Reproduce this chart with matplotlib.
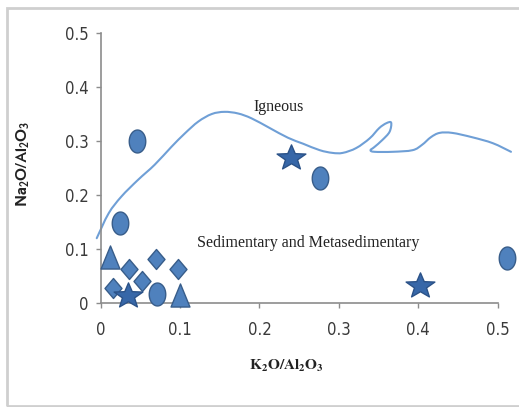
import matplotlib
matplotlib.use("Agg")
import matplotlib.pyplot as plt
import numpy as np
from matplotlib.path import Path
from matplotlib.patches import Rectangle, PathPatch

# ---------------- data ----------------
circle_x = [0.046, 0.024, 0.071, 0.276, 0.512]
circle_y = [0.300, 0.148, 0.017, 0.231, 0.083]

diamond_x = [0.015, 0.036, 0.052, 0.070, 0.097]
diamond_y = [0.027, 0.063, 0.041, 0.081, 0.063]

triangle_x = [0.012, 0.100]
triangle_y = [0.085, 0.015]

star_x = [0.035, 0.240, 0.402]
star_y = [0.011, 0.267, 0.030]

curve_x = [-0.005, 0.010, 0.026, 0.047, 0.068, 0.089, 0.106, 0.123, 0.140,
           0.156, 0.173, 0.190, 0.213, 0.236, 0.255, 0.276, 0.292, 0.305,
           0.322, 0.339, 0.351, 0.360, 0.366, 0.364, 0.355, 0.345, 0.340,
           0.345, 0.368, 0.393, 0.405, 0.416, 0.427, 0.443, 0.468, 0.494, 0.517]
curve_y = [0.120, 0.166, 0.197, 0.228, 0.256, 0.289, 0.314, 0.336, 0.350,
           0.354, 0.351, 0.342, 0.324, 0.306, 0.295, 0.283, 0.278, 0.278,
           0.287, 0.305, 0.324, 0.333, 0.334, 0.317, 0.302, 0.289, 0.283,
           0.280, 0.280, 0.283, 0.293, 0.307, 0.315, 0.315, 0.307, 0.296, 0.280]

x_ticks = [0, 0.1, 0.2, 0.3, 0.4, 0.5]
x_ticklabels = ["0", "0.1", "0.2", "0.3", "0.4", "0.5"]
y_ticks = [0, 0.1, 0.2, 0.3, 0.4, 0.5]
y_ticklabels = ["0", "0.1", "0.2", "0.3", "0.4", "0.5"]

serif_font = "Liberation Serif"

# ---------------- marker shapes ----------------
t = np.linspace(0, 2 * np.pi, 60)
ellipse = Path(np.column_stack([0.36 * np.cos(t), 0.5 * np.sin(t)]), closed=True)
diamond = Path([(0, 0.5), (0.425, 0), (0, -0.5), (-0.425, 0), (0, 0.5)], closed=True)
triangle = Path([(0, 0.5), (-0.41, -0.5), (0.41, -0.5), (0, 0.5)], closed=True)
ang = np.pi / 2 + np.arange(10) * np.pi / 5
rad = np.where(np.arange(10) % 2 == 0, 1.0, 0.42)
sv = np.column_stack([1.14 * rad * np.cos(ang), rad * np.sin(ang) + 0.1])
star = Path(np.vstack([sv, sv[:1]]), closed=True)

fill = "#4F81BD"
edge = "#385D8A"

fig = plt.figure(figsize=(5.19, 4.07), dpi=100)
fig.patch.set_facecolor("white")
fig.patches.append(Rectangle((7 / 519, 1 - 406 / 407), 1.2, (406 - 8) / 407,
                             transform=fig.transFigure, fill=False,
                             edgecolor="#cfcfcf", lw=2.0, zorder=0))

ax = fig.add_axes([100.7 / 519, 1 - 303 / 407, (497.5 - 100.7) / 519, 270 / 407])
ax.set_xlim(0, 0.5)
ax.set_ylim(0, 0.5)

# smoothed line through the read points (Excel-style smoothing, drawn as Bezier path)
P = np.column_stack([curve_x, curve_y])
Pe = np.vstack([P[0], P, P[-1]])
verts = [tuple(P[0])]
codes = [Path.MOVETO]
for i in range(len(P) - 1):
    p0, p1, p2, p3 = Pe[i], Pe[i + 1], Pe[i + 2], Pe[i + 3]
    c1 = p1 + (p2 - p0) / 6.0
    c2 = p2 - (p3 - p1) / 6.0
    verts += [tuple(c1), tuple(c2), tuple(p2)]
    codes += [Path.CURVE4] * 3
ax.add_patch(PathPatch(Path(verts, codes), fill=False, edgecolor="#6F9FD6", lw=1.5,
                       capstyle="round", joinstyle="round", clip_on=False, zorder=2))

ax.plot(circle_x, circle_y, ls="none", marker=ellipse, ms=16.5, mfc=fill, mec=edge,
        mew=1.0, clip_on=False, zorder=3)
ax.plot(diamond_x, diamond_y, ls="none", marker=diamond, ms=14.4, mfc=fill, mec=edge,
        mew=1.0, clip_on=False, zorder=3)
ax.plot(triangle_x, triangle_y, ls="none", marker=triangle, ms=16.6, mfc=fill, mec=edge,
        mew=1.0, clip_on=False, zorder=3)
ax.plot(star_x, star_y, ls="none", marker=star, ms=21, mfc="#3767A8", mec="#2B5288",
        mew=1.0, clip_on=False, zorder=3)

ax.text(0.224, 0.363, "Igneous", family=serif_font, fontsize=11.5, color="#222222",
        ha="center", va="center")
ax.text(0.261, 0.111, "Sedimentary and Metasedimentary", family=serif_font,
        fontsize=11.5, color="#222222", ha="center", va="center")

for s in ["top", "right"]:
    ax.spines[s].set_visible(False)
for s in ["left", "bottom"]:
    ax.spines[s].set_color("#8c8c8c")
    ax.spines[s].set_linewidth(1.2)

ax.set_xticks(x_ticks)
ax.set_xticklabels(x_ticklabels)
ax.set_yticks(y_ticks)
ax.set_yticklabels(y_ticklabels)
ax.tick_params(axis="both", direction="out", length=3.5, width=1.0, color="#8c8c8c",
               labelcolor="#3a3a3a", labelsize=12)
ax.tick_params(axis="x", pad=9.5)
ax.tick_params(axis="y", pad=5)
for lab in ax.get_xticklabels() + ax.get_yticklabels():
    lab.set_family(["Liberation Sans Narrow", "DejaVu Sans"])
    lab.set_fontstretch("condensed")

ax.set_xlabel(r"$\mathbf{K_2O/Al_2O_3}$", math_fontfamily="stix", fontsize=11,
              color="#222222", va="center")
ax.xaxis.set_label_coords((286 - 100.7) / 396.8, (303 - 366) / 270)
ax.set_ylabel(r"$\mathbf{Na_2O/Al_2O_3}$", math_fontfamily="stixsans", fontsize=12,
              color="#222222", va="center")
ax.yaxis.set_label_coords((23 - 100.7) / 396.8, (303 - 164) / 270)

fig.savefig("out.png", dpi=100, facecolor="white")
